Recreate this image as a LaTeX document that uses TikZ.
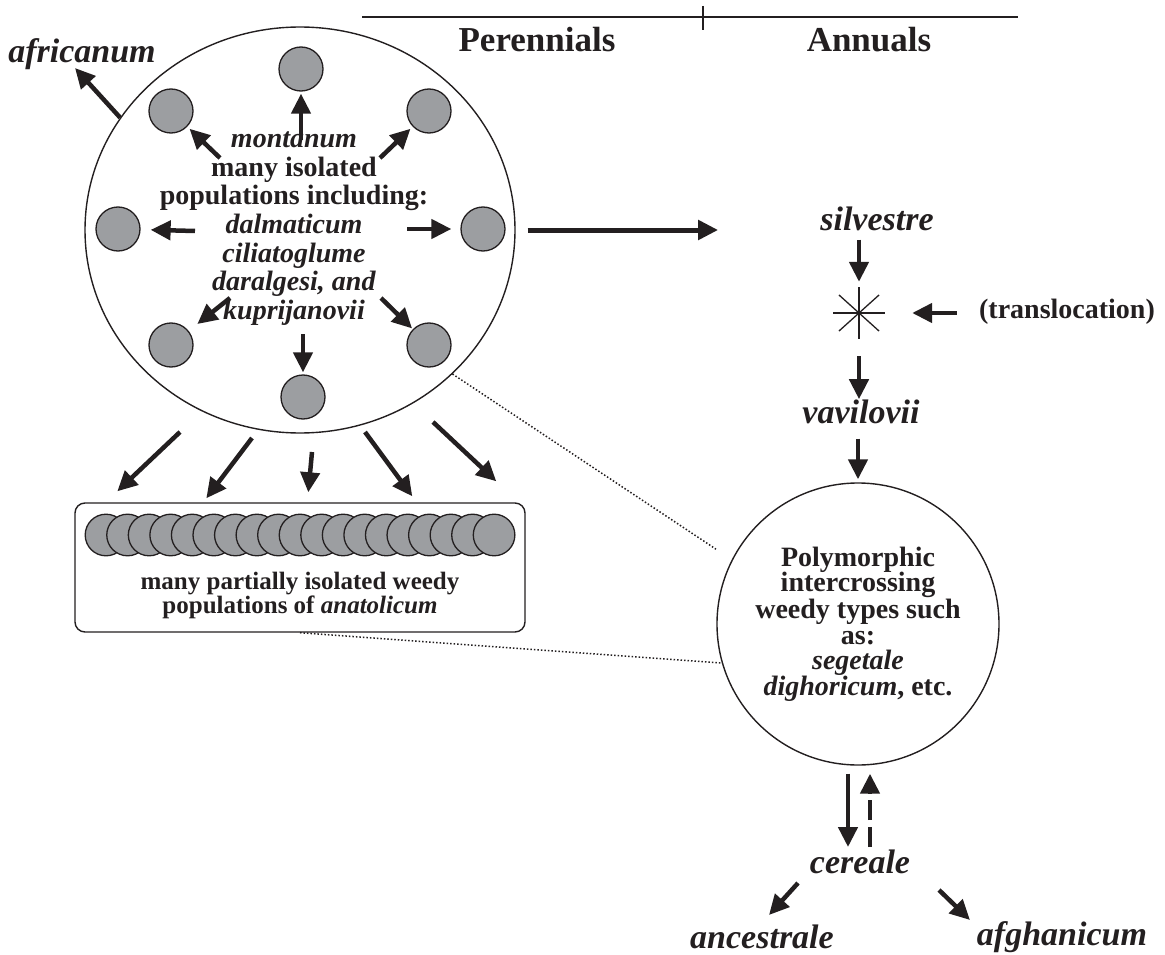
\documentclass[tikz,border=0pt]{standalone}
\usepackage{fontspec}
\setmainfont{Liberation Serif}
\usetikzlibrary{positioning,arrows.meta,shapes.geometric,calc}
\definecolor{cInk}{HTML}{231F20}
\definecolor{cDot}{HTML}{9C9EA1}

\begin{document}
\begin{tikzpicture}[x=1pt,y=-1pt,color=cInk,font=\bfseries,
  arr/.style={-{Triangle[length=20pt,width=19pt]},line width=4.5pt},
  dot/.style={circle,draw,fill=cDot,line width=1.3pt,minimum size=44pt,inner sep=0pt},
  rowdot/.style={dot,minimum size=41.6pt},
  sp/.style={font=\fontsize{34}{36}\selectfont\bfseries\itshape,inner sep=0pt,anchor=base},
  txt/.style={align=center,inner sep=0pt},
  dots/.style={line width=1.5pt,dash pattern=on 1.5pt off 2pt}]
\useasboundingbox (0,0) rectangle (1165,955);
% ---------- header ----------
\draw[line width=1.3pt] (362,17) -- (1018,17);
\draw[line width=1.3pt] (703,6) -- (703,30);
\node[font=\fontsize{35}{36}\selectfont\bfseries,anchor=base,inner sep=0pt] (per) at (537,52) {Perennials};
\node[font=\fontsize{35}{36}\selectfont\bfseries,anchor=base,inner sep=0pt] (ann) at (869,52) {Annuals};
% ---------- perennials ----------
\node[draw,ellipse,line width=1.4pt,minimum width=430pt,minimum height=406pt,inner sep=0pt] (pop) at (300,230) {};
\node[txt,font=\fontsize{28}{28.7}\selectfont\bfseries] (inc) at (294,228.5) {\textit{montanum}\\many isolated\\populations including:\\\textit{dalmaticum}\\\textit{ciliatoglume}\\\textit{daralgesi, and}\\\textit{kuprijanovii}};
\foreach \i/\x/\y in {1/301/69,2/429/111,3/483/229,4/429/345,5/303/397,6/171/345,7/118/229,8/171/111}
  \node[dot] (c\i) at (\x,\y) {};
\foreach \i/\x/\y/\g in {1/301/140/2,2/380/158/3,3/407/229/9,4/381/298/1,5/303/334/2,6/230/298/11,7/195/231/10,8/220/158/3}{
  \coordinate (s\i) at (\x,\y);
  \draw[arr,shorten >=\g pt] (s\i) -- (c\i);}
\node[sp] (afr) at (82,63) {africanum};
\draw[arr] (pop.148) -- ($(afr.base)+(-7,5)$);
% ---------- weedy anatolicum ----------
\node[draw,rounded corners=10pt,line width=1.4pt,minimum width=450pt,minimum height=129pt,inner sep=0pt] (box) at (300,567.5) {};
\foreach \i in {0,...,18}
  \node[rowdot] (r\i) at (106+21.56*\i,535) {};
\node[txt,font=\fontsize{25}{22}\selectfont\bfseries] (boxlab) at (300,595) {many partially isolated weedy\\populations of \textit{anatolicum}};
\foreach \i/\x/\y/\tx/\ty in {1/180/432/43/-11,2/252/438/132/-4,3/312/452/234/-10,4/365/432/338/-6,5/433/422/422/-21}{
  \coordinate (fan\i) at (\x,\y);
  \draw[arr] (fan\i) -- ($(box.north west)+(\tx,\ty)$);}
% ---------- annuals ----------
\node[sp] (silv) at (877,230) {silvestre};
\node[circle,minimum size=52pt,inner sep=0pt] (cross) at (859,313) {};
\foreach \a/\r in {0/26,42/27,90/26,138/27,180/26,222/27,270/26,318/27}
  \draw[line width=1.3pt] (cross.center) -- ++(\a:\r);
\node[font=\fontsize{28}{30}\selectfont\bfseries,anchor=base,inner sep=0pt] (trans) at (1067,318) {(translocation)};
\node[sp] (vav) at (861,423) {vavilovii};
\node[draw,circle,line width=1.4pt,minimum size=282pt,inner sep=0pt,txt,font=\fontsize{28}{25.6}\selectfont\bfseries] (poly) at (858,624) {Polymorphic\\intercrossing\\weedy types such\\as:\\\textit{segetale}\\\textit{dighoricum}, etc.};
\node[sp] (cer) at (860,873) {cereale};
\node[sp] (anc) at (762,948) {ancestrale};
\node[sp] (afg) at (1062,945) {afghanicum};
\draw[arr,line width=5pt,shorten <=12pt,shorten >=102pt] (pop.east) -- (pop.east -| silv.west);
\draw[arr,shorten <=9pt,shorten >=5pt] (silv.south -| cross) -- (cross.north);
\draw[arr,shorten <=17pt] (cross.south) -- (cross.south |- vav.north);
\draw[arr,shorten <=15pt,shorten >=3pt] (vav.south -| poly.north) -- (poly.north);
\draw[arr,shorten <=22pt,shorten >=27pt] (trans.west |- cross) -- (cross.east);
\draw[arr] ([shift={(-10,8)}]poly.south) -- ([shift={(-12,-26)}]cer.base);
\draw[arr,dash pattern=on 20pt off 7pt] ([shift={(10,-26)}]cer.base) -- ([shift={(12,8)}]poly.south);
\draw[arr] ($(cer.base)+(-62,10)$) -- ($(anc.base)+(7,-33)$);
\draw[arr] ($(cer.base)+(79,17)$) -- ($(afg.base)+(-92,-25)$);
% ---------- links ----------
\draw[dots,shorten >=19pt] (pop.south east) -- (poly.153);
\draw[dots] (box.south) -- (poly.196);
\end{tikzpicture}
\end{document}
